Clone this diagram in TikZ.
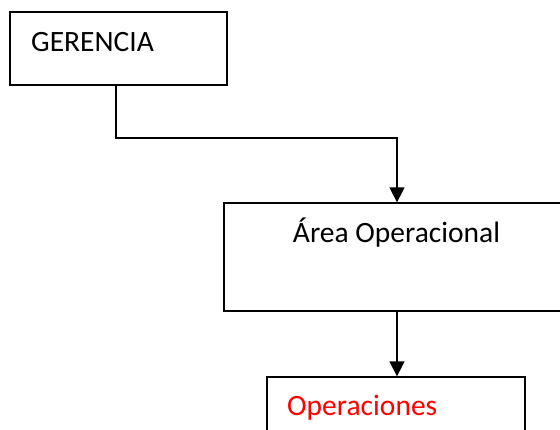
\documentclass[tikz,border=0pt]{standalone}
\usepackage{fontspec}
\setmainfont{Carlito}
\usetikzlibrary{arrows.meta}
\begin{document}
\begin{tikzpicture}[x=1pt,y=-1pt,
  box/.style={draw=black,line width=1.3pt,inner sep=0pt,rectangle},
  lbl/.style={inner sep=0pt,font=\fontsize{29.5}{32}\selectfont},
  conn/.style={draw=black,line width=1.5pt},
  arr/.style={conn,-{Triangle[length=15pt,width=15pt]}}]
\useasboundingbox (0,0) rectangle (560,430);
\clip (0,0) rectangle (560,430);
\node[box,minimum width=217pt,minimum height=73pt] (ger) at (118.5,48.5) {};
\node[lbl,anchor=base west] (gert) at (31,52) {GERENCIA};
\node[box,minimum width=356pt,minimum height=108pt] (area) at (402,257) {};
\node[lbl,anchor=base] (areat) at (396.5,243) {Área Operacional};
\node[box,minimum width=258pt,minimum height=73pt] (oper) at (396,413.5) {};
\node[lbl,anchor=base west,text={rgb,255:red,255;green,0;blue,0}] (opert) at (287,416) {Operaciones};
\coordinate (gx) at (116,0);
\coordinate (bend) at (397,138);
\draw[arr] (ger.south -| gx) |- (bend) -- (area.north -| bend);
\draw[arr] (area.south -| bend) -- (oper.north -| bend);
\end{tikzpicture}
\end{document}
